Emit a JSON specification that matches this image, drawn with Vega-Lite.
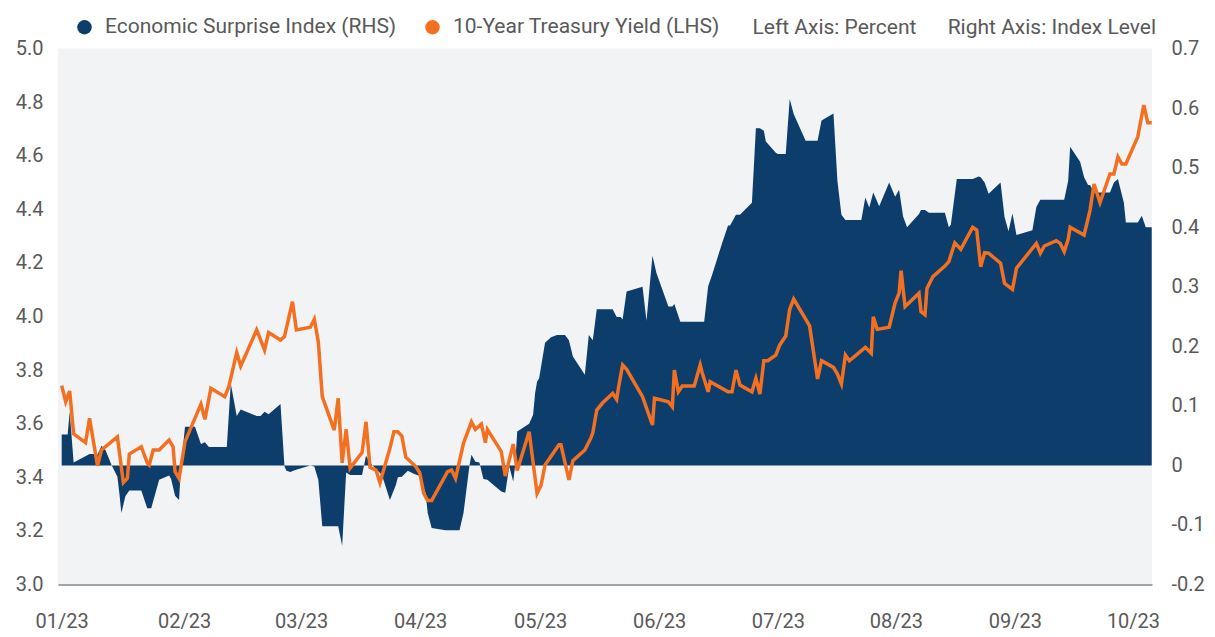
{
  "$schema": "https://vega.github.io/schema/vega-lite/v6.json",
  "autosize": {"type": "none"},
  "padding": {"left": 58, "top": 48.5, "right": 63, "bottom": 52.5},
  "width": 1094,
  "height": 536,
  "background": "white",
  "title": {
    "text": "Left Axis: Percent\u00a0\u00a0\u00a0\u00a0\u00a0\u00a0Right Axis: Index Level",
    "anchor": "end", "frame": "group", "orient": "top", "offset": -17.5, "baseline": "alphabetic",
    "fontSize": 21, "font": "Roboto", "fontWeight": "normal", "color": "#595959", "dx": 4, "dy": 21
  },
  "datasets": {
    "esi": [
      {"date": "2023-01-03", "esi": 0.052},
      {"date": "2023-01-04T12:00:00Z", "esi": 0.052},
      {"date": "2023-01-05", "esi": 0.090},
      {"date": "2023-01-06", "esi": 0.005},
      {"date": "2023-01-10", "esi": 0.019},
      {"date": "2023-01-11", "esi": 0.019},
      {"date": "2023-01-12", "esi": 0.018},
      {"date": "2023-01-13", "esi": 0.033},
      {"date": "2023-01-14", "esi": 0.026},
      {"date": "2023-01-15T12:00:00Z", "esi": 0.001},
      {"date": "2023-01-17", "esi": -0.019},
      {"date": "2023-01-17T12:00:00Z", "esi": -0.047},
      {"date": "2023-01-18", "esi": -0.080},
      {"date": "2023-01-19", "esi": -0.052},
      {"date": "2023-01-20", "esi": -0.042},
      {"date": "2023-01-23", "esi": -0.042},
      {"date": "2023-01-24T12:00:00Z", "esi": -0.072},
      {"date": "2023-01-25T12:00:00Z", "esi": -0.072},
      {"date": "2023-01-27T12:00:00Z", "esi": -0.024},
      {"date": "2023-01-30", "esi": -0.017},
      {"date": "2023-01-30T12:00:00Z", "esi": -0.023},
      {"date": "2023-01-31T12:00:00Z", "esi": -0.051},
      {"date": "2023-02-01T12:00:00Z", "esi": -0.058},
      {"date": "2023-02-02", "esi": 0.000},
      {"date": "2023-02-03", "esi": 0.065},
      {"date": "2023-02-05T12:00:00Z", "esi": 0.065},
      {"date": "2023-02-07", "esi": 0.036},
      {"date": "2023-02-08", "esi": 0.039},
      {"date": "2023-02-09", "esi": 0.031},
      {"date": "2023-02-13T12:00:00Z", "esi": 0.031},
      {"date": "2023-02-14T12:00:00Z", "esi": 0.137},
      {"date": "2023-02-16", "esi": 0.083},
      {"date": "2023-02-17", "esi": 0.094},
      {"date": "2023-02-21", "esi": 0.083},
      {"date": "2023-02-22", "esi": 0.083},
      {"date": "2023-02-23", "esi": 0.090},
      {"date": "2023-02-24", "esi": 0.086},
      {"date": "2023-02-27", "esi": 0.103},
      {"date": "2023-02-28", "esi": -0.002},
      {"date": "2023-02-28T12:00:00Z", "esi": -0.009},
      {"date": "2023-03-01T12:00:00Z", "esi": -0.011},
      {"date": "2023-03-02T12:00:00Z", "esi": -0.008},
      {"date": "2023-03-06T12:00:00Z", "esi": 0.000},
      {"date": "2023-03-07T12:00:00Z", "esi": -0.002},
      {"date": "2023-03-08T12:00:00Z", "esi": -0.024},
      {"date": "2023-03-09T12:00:00Z", "esi": -0.102},
      {"date": "2023-03-13T12:00:00Z", "esi": -0.102},
      {"date": "2023-03-14T12:00:00Z", "esi": -0.135},
      {"date": "2023-03-15T12:00:00Z", "esi": -0.012},
      {"date": "2023-03-16T12:00:00Z", "esi": -0.016},
      {"date": "2023-03-19T12:00:00Z", "esi": -0.016},
      {"date": "2023-03-20T12:00:00Z", "esi": 0.016},
      {"date": "2023-03-21T12:00:00Z", "esi": 0.005},
      {"date": "2023-03-22", "esi": 0.001},
      {"date": "2023-03-24T12:00:00Z", "esi": -0.016},
      {"date": "2023-03-26T12:00:00Z", "esi": -0.058},
      {"date": "2023-03-28", "esi": -0.033},
      {"date": "2023-03-28T12:00:00Z", "esi": -0.020},
      {"date": "2023-03-29T12:00:00Z", "esi": -0.019},
      {"date": "2023-03-31", "esi": -0.009},
      {"date": "2023-04-01T12:00:00Z", "esi": -0.014},
      {"date": "2023-04-03", "esi": -0.018},
      {"date": "2023-04-04T12:00:00Z", "esi": -0.047},
      {"date": "2023-04-05", "esi": -0.080},
      {"date": "2023-04-06", "esi": -0.105},
      {"date": "2023-04-09T12:00:00Z", "esi": -0.109},
      {"date": "2023-04-13", "esi": -0.109},
      {"date": "2023-04-14", "esi": -0.080},
      {"date": "2023-04-15T12:00:00Z", "esi": 0.000},
      {"date": "2023-04-16", "esi": 0.018},
      {"date": "2023-04-17", "esi": 0.006},
      {"date": "2023-04-18", "esi": 0.005},
      {"date": "2023-04-19", "esi": -0.023},
      {"date": "2023-04-20", "esi": -0.024},
      {"date": "2023-04-23T12:00:00Z", "esi": -0.044},
      {"date": "2023-04-24T12:00:00Z", "esi": -0.046},
      {"date": "2023-04-25T12:00:00Z", "esi": -0.002},
      {"date": "2023-04-26T12:00:00Z", "esi": -0.027},
      {"date": "2023-04-27", "esi": 0.001},
      {"date": "2023-04-27T12:00:00Z", "esi": 0.057},
      {"date": "2023-04-30T12:00:00Z", "esi": 0.070},
      {"date": "2023-05-01T12:00:00Z", "esi": 0.085},
      {"date": "2023-05-02", "esi": 0.121},
      {"date": "2023-05-02T12:00:00Z", "esi": 0.141},
      {"date": "2023-05-03", "esi": 0.146},
      {"date": "2023-05-04T12:00:00Z", "esi": 0.206},
      {"date": "2023-05-06", "esi": 0.215},
      {"date": "2023-05-07T12:00:00Z", "esi": 0.219},
      {"date": "2023-05-09T12:00:00Z", "esi": 0.219},
      {"date": "2023-05-10T12:00:00Z", "esi": 0.210},
      {"date": "2023-05-11T12:00:00Z", "esi": 0.183},
      {"date": "2023-05-14T12:00:00Z", "esi": 0.152},
      {"date": "2023-05-15T12:00:00Z", "esi": 0.219},
      {"date": "2023-05-16T12:00:00Z", "esi": 0.210},
      {"date": "2023-05-17T12:00:00Z", "esi": 0.262},
      {"date": "2023-05-21T12:00:00Z", "esi": 0.262},
      {"date": "2023-05-22T12:00:00Z", "esi": 0.249},
      {"date": "2023-05-23T12:00:00Z", "esi": 0.249},
      {"date": "2023-05-24", "esi": 0.245},
      {"date": "2023-05-25", "esi": 0.292},
      {"date": "2023-05-29", "esi": 0.300},
      {"date": "2023-05-30", "esi": 0.243},
      {"date": "2023-05-31T12:00:00Z", "esi": 0.352},
      {"date": "2023-06-01T12:00:00Z", "esi": 0.323},
      {"date": "2023-06-04T12:00:00Z", "esi": 0.267},
      {"date": "2023-06-05T12:00:00Z", "esi": 0.267},
      {"date": "2023-06-06", "esi": 0.271},
      {"date": "2023-06-07T12:00:00Z", "esi": 0.241},
      {"date": "2023-06-13T12:00:00Z", "esi": 0.241},
      {"date": "2023-06-14T12:00:00Z", "esi": 0.301},
      {"date": "2023-06-15T12:00:00Z", "esi": 0.320},
      {"date": "2023-06-18", "esi": 0.373},
      {"date": "2023-06-19T12:00:00Z", "esi": 0.403},
      {"date": "2023-06-20", "esi": 0.403},
      {"date": "2023-06-21T12:00:00Z", "esi": 0.421},
      {"date": "2023-06-22T12:00:00Z", "esi": 0.421},
      {"date": "2023-06-25T12:00:00Z", "esi": 0.441},
      {"date": "2023-06-26T12:00:00Z", "esi": 0.566},
      {"date": "2023-06-27T12:00:00Z", "esi": 0.566},
      {"date": "2023-06-28T12:00:00Z", "esi": 0.562},
      {"date": "2023-06-29", "esi": 0.544},
      {"date": "2023-07-01T12:00:00Z", "esi": 0.525},
      {"date": "2023-07-02", "esi": 0.523},
      {"date": "2023-07-04", "esi": 0.523},
      {"date": "2023-07-05", "esi": 0.615},
      {"date": "2023-07-06", "esi": 0.590},
      {"date": "2023-07-09", "esi": 0.545},
      {"date": "2023-07-12", "esi": 0.545},
      {"date": "2023-07-13", "esi": 0.579},
      {"date": "2023-07-16", "esi": 0.591},
      {"date": "2023-07-17", "esi": 0.477},
      {"date": "2023-07-18", "esi": 0.421},
      {"date": "2023-07-19", "esi": 0.412},
      {"date": "2023-07-23", "esi": 0.412},
      {"date": "2023-07-24", "esi": 0.450},
      {"date": "2023-07-25", "esi": 0.433},
      {"date": "2023-07-26", "esi": 0.458},
      {"date": "2023-07-27T12:00:00Z", "esi": 0.435},
      {"date": "2023-07-30", "esi": 0.475},
      {"date": "2023-07-31T12:00:00Z", "esi": 0.451},
      {"date": "2023-08-01T12:00:00Z", "esi": 0.463},
      {"date": "2023-08-02T12:00:00Z", "esi": 0.418},
      {"date": "2023-08-03T12:00:00Z", "esi": 0.400},
      {"date": "2023-08-06T12:00:00Z", "esi": 0.422},
      {"date": "2023-08-07", "esi": 0.429},
      {"date": "2023-08-08", "esi": 0.429},
      {"date": "2023-08-09", "esi": 0.424},
      {"date": "2023-08-13", "esi": 0.424},
      {"date": "2023-08-14", "esi": 0.400},
      {"date": "2023-08-14T12:00:00Z", "esi": 0.404},
      {"date": "2023-08-16", "esi": 0.481},
      {"date": "2023-08-20", "esi": 0.481},
      {"date": "2023-08-21T12:00:00Z", "esi": 0.485},
      {"date": "2023-08-22", "esi": 0.484},
      {"date": "2023-08-23", "esi": 0.475},
      {"date": "2023-08-24", "esi": 0.456},
      {"date": "2023-08-27", "esi": 0.475},
      {"date": "2023-08-28", "esi": 0.417},
      {"date": "2023-08-29", "esi": 0.393},
      {"date": "2023-08-30", "esi": 0.423},
      {"date": "2023-08-31", "esi": 0.387},
      {"date": "2023-09-04", "esi": 0.395},
      {"date": "2023-09-05", "esi": 0.434},
      {"date": "2023-09-06", "esi": 0.446},
      {"date": "2023-09-12", "esi": 0.446},
      {"date": "2023-09-13", "esi": 0.478},
      {"date": "2023-09-13T12:00:00Z", "esi": 0.535},
      {"date": "2023-09-16", "esi": 0.510},
      {"date": "2023-09-17", "esi": 0.484},
      {"date": "2023-09-18", "esi": 0.471},
      {"date": "2023-09-18T12:00:00Z", "esi": 0.471},
      {"date": "2023-09-19T12:00:00Z", "esi": 0.458},
      {"date": "2023-09-23T12:00:00Z", "esi": 0.458},
      {"date": "2023-09-24T12:00:00Z", "esi": 0.475},
      {"date": "2023-09-25T12:00:00Z", "esi": 0.481},
      {"date": "2023-09-27", "esi": 0.441},
      {"date": "2023-09-27T12:00:00Z", "esi": 0.408},
      {"date": "2023-09-30T12:00:00Z", "esi": 0.408},
      {"date": "2023-10-01T12:00:00Z", "esi": 0.419},
      {"date": "2023-10-02T12:00:00Z", "esi": 0.400},
      {"date": "2023-10-04", "esi": 0.400}
    ],
    "yield": [
      {"date": "2023-01-03", "yield": 3.742},
      {"date": "2023-01-04", "yield": 3.682},
      {"date": "2023-01-05", "yield": 3.722},
      {"date": "2023-01-06", "yield": 3.562},
      {"date": "2023-01-09", "yield": 3.529},
      {"date": "2023-01-10", "yield": 3.620},
      {"date": "2023-01-12", "yield": 3.443},
      {"date": "2023-01-13", "yield": 3.502},
      {"date": "2023-01-17", "yield": 3.551},
      {"date": "2023-01-18T12:00:00Z", "yield": 3.380},
      {"date": "2023-01-19T12:00:00Z", "yield": 3.396},
      {"date": "2023-01-20", "yield": 3.487},
      {"date": "2023-01-23", "yield": 3.514},
      {"date": "2023-01-24T12:00:00Z", "yield": 3.454},
      {"date": "2023-01-25", "yield": 3.446},
      {"date": "2023-01-26", "yield": 3.502},
      {"date": "2023-01-27T12:00:00Z", "yield": 3.502},
      {"date": "2023-01-30", "yield": 3.539},
      {"date": "2023-01-31", "yield": 3.514},
      {"date": "2023-01-31T12:00:00Z", "yield": 3.421},
      {"date": "2023-02-01T12:00:00Z", "yield": 3.396},
      {"date": "2023-02-03", "yield": 3.533},
      {"date": "2023-02-07", "yield": 3.673},
      {"date": "2023-02-08", "yield": 3.616},
      {"date": "2023-02-09T12:00:00Z", "yield": 3.732},
      {"date": "2023-02-13", "yield": 3.701},
      {"date": "2023-02-14", "yield": 3.738},
      {"date": "2023-02-16", "yield": 3.865},
      {"date": "2023-02-17", "yield": 3.815},
      {"date": "2023-02-21", "yield": 3.950},
      {"date": "2023-02-23", "yield": 3.875},
      {"date": "2023-02-24", "yield": 3.940},
      {"date": "2023-02-27", "yield": 3.912},
      {"date": "2023-02-28", "yield": 3.925},
      {"date": "2023-03-02", "yield": 4.055},
      {"date": "2023-03-03", "yield": 3.950},
      {"date": "2023-03-06T12:00:00Z", "yield": 3.960},
      {"date": "2023-03-07T12:00:00Z", "yield": 3.990},
      {"date": "2023-03-08T12:00:00Z", "yield": 3.906},
      {"date": "2023-03-09T12:00:00Z", "yield": 3.701},
      {"date": "2023-03-12T12:00:00Z", "yield": 3.576},
      {"date": "2023-03-13T12:00:00Z", "yield": 3.695},
      {"date": "2023-03-14T12:00:00Z", "yield": 3.454},
      {"date": "2023-03-15T12:00:00Z", "yield": 3.579},
      {"date": "2023-03-16T12:00:00Z", "yield": 3.434},
      {"date": "2023-03-19T12:00:00Z", "yield": 3.492},
      {"date": "2023-03-20T12:00:00Z", "yield": 3.607},
      {"date": "2023-03-21T12:00:00Z", "yield": 3.437},
      {"date": "2023-03-23", "yield": 3.427},
      {"date": "2023-03-24", "yield": 3.380},
      {"date": "2023-03-26T12:00:00Z", "yield": 3.508},
      {"date": "2023-03-27T12:00:00Z", "yield": 3.570},
      {"date": "2023-03-28T12:00:00Z", "yield": 3.570},
      {"date": "2023-03-29T12:00:00Z", "yield": 3.554},
      {"date": "2023-03-30T12:00:00Z", "yield": 3.475},
      {"date": "2023-04-02", "yield": 3.440},
      {"date": "2023-04-03", "yield": 3.417},
      {"date": "2023-04-04", "yield": 3.340},
      {"date": "2023-04-05", "yield": 3.313},
      {"date": "2023-04-06", "yield": 3.313},
      {"date": "2023-04-10", "yield": 3.421},
      {"date": "2023-04-11", "yield": 3.427},
      {"date": "2023-04-12", "yield": 3.396},
      {"date": "2023-04-14", "yield": 3.527},
      {"date": "2023-04-16", "yield": 3.607},
      {"date": "2023-04-17", "yield": 3.579},
      {"date": "2023-04-18T12:00:00Z", "yield": 3.599},
      {"date": "2023-04-19T12:00:00Z", "yield": 3.529},
      {"date": "2023-04-20", "yield": 3.579},
      {"date": "2023-04-23T12:00:00Z", "yield": 3.496},
      {"date": "2023-04-24T12:00:00Z", "yield": 3.405},
      {"date": "2023-04-26T12:00:00Z", "yield": 3.524},
      {"date": "2023-04-27T12:00:00Z", "yield": 3.425},
      {"date": "2023-04-30T12:00:00Z", "yield": 3.570},
      {"date": "2023-05-02T12:00:00Z", "yield": 3.340},
      {"date": "2023-05-03T12:00:00Z", "yield": 3.371},
      {"date": "2023-05-04T12:00:00Z", "yield": 3.446},
      {"date": "2023-05-08", "yield": 3.521},
      {"date": "2023-05-08T12:00:00Z", "yield": 3.521},
      {"date": "2023-05-10T12:00:00Z", "yield": 3.390},
      {"date": "2023-05-11T12:00:00Z", "yield": 3.462},
      {"date": "2023-05-14T12:00:00Z", "yield": 3.502},
      {"date": "2023-05-16", "yield": 3.546},
      {"date": "2023-05-16T12:00:00Z", "yield": 3.566},
      {"date": "2023-05-17T12:00:00Z", "yield": 3.651},
      {"date": "2023-05-19", "yield": 3.678},
      {"date": "2023-05-21T12:00:00Z", "yield": 3.713},
      {"date": "2023-05-22T12:00:00Z", "yield": 3.691},
      {"date": "2023-05-23", "yield": 3.738},
      {"date": "2023-05-24", "yield": 3.819},
      {"date": "2023-05-25", "yield": 3.803},
      {"date": "2023-05-29", "yield": 3.701},
      {"date": "2023-05-31T12:00:00Z", "yield": 3.595},
      {"date": "2023-06-01", "yield": 3.695},
      {"date": "2023-06-04T12:00:00Z", "yield": 3.682},
      {"date": "2023-06-05T12:00:00Z", "yield": 3.663},
      {"date": "2023-06-06", "yield": 3.800},
      {"date": "2023-06-07", "yield": 3.719},
      {"date": "2023-06-08", "yield": 3.741},
      {"date": "2023-06-11", "yield": 3.741},
      {"date": "2023-06-12T12:00:00Z", "yield": 3.819},
      {"date": "2023-06-13", "yield": 3.790},
      {"date": "2023-06-14T12:00:00Z", "yield": 3.719},
      {"date": "2023-06-15", "yield": 3.757},
      {"date": "2023-06-19T12:00:00Z", "yield": 3.719},
      {"date": "2023-06-20T12:00:00Z", "yield": 3.719},
      {"date": "2023-06-21T12:00:00Z", "yield": 3.800},
      {"date": "2023-06-22T12:00:00Z", "yield": 3.744},
      {"date": "2023-06-25T12:00:00Z", "yield": 3.719},
      {"date": "2023-06-26T12:00:00Z", "yield": 3.769},
      {"date": "2023-06-27T12:00:00Z", "yield": 3.711},
      {"date": "2023-06-28T12:00:00Z", "yield": 3.835},
      {"date": "2023-06-29T12:00:00Z", "yield": 3.835},
      {"date": "2023-07-01T12:00:00Z", "yield": 3.856},
      {"date": "2023-07-02T12:00:00Z", "yield": 3.894},
      {"date": "2023-07-04", "yield": 3.927},
      {"date": "2023-07-05", "yield": 4.027},
      {"date": "2023-07-06", "yield": 4.065},
      {"date": "2023-07-09", "yield": 3.990},
      {"date": "2023-07-10", "yield": 3.965},
      {"date": "2023-07-12", "yield": 3.767},
      {"date": "2023-07-13", "yield": 3.835},
      {"date": "2023-07-16", "yield": 3.810},
      {"date": "2023-07-17", "yield": 3.785},
      {"date": "2023-07-18", "yield": 3.748},
      {"date": "2023-07-19", "yield": 3.856},
      {"date": "2023-07-20", "yield": 3.835},
      {"date": "2023-07-24", "yield": 3.885},
      {"date": "2023-07-25T12:00:00Z", "yield": 3.863},
      {"date": "2023-07-26", "yield": 3.999},
      {"date": "2023-07-27", "yield": 3.952},
      {"date": "2023-07-30", "yield": 3.960},
      {"date": "2023-07-31T12:00:00Z", "yield": 4.051},
      {"date": "2023-08-01T12:00:00Z", "yield": 4.087},
      {"date": "2023-08-02", "yield": 4.171},
      {"date": "2023-08-03", "yield": 4.037},
      {"date": "2023-08-06T12:00:00Z", "yield": 4.087},
      {"date": "2023-08-07", "yield": 4.018},
      {"date": "2023-08-08", "yield": 4.006},
      {"date": "2023-08-08T12:00:00Z", "yield": 4.105},
      {"date": "2023-08-10", "yield": 4.149},
      {"date": "2023-08-13", "yield": 4.188},
      {"date": "2023-08-14", "yield": 4.205},
      {"date": "2023-08-15T12:00:00Z", "yield": 4.275},
      {"date": "2023-08-17", "yield": 4.251},
      {"date": "2023-08-20", "yield": 4.333},
      {"date": "2023-08-21", "yield": 4.323},
      {"date": "2023-08-22", "yield": 4.186},
      {"date": "2023-08-23", "yield": 4.238},
      {"date": "2023-08-24", "yield": 4.236},
      {"date": "2023-08-27", "yield": 4.199},
      {"date": "2023-08-28", "yield": 4.124},
      {"date": "2023-08-30", "yield": 4.101},
      {"date": "2023-08-31", "yield": 4.180},
      {"date": "2023-09-05", "yield": 4.273},
      {"date": "2023-09-06", "yield": 4.236},
      {"date": "2023-09-07", "yield": 4.263},
      {"date": "2023-09-10", "yield": 4.283},
      {"date": "2023-09-11", "yield": 4.273},
      {"date": "2023-09-12", "yield": 4.242},
      {"date": "2023-09-13", "yield": 4.288},
      {"date": "2023-09-13T12:00:00Z", "yield": 4.333},
      {"date": "2023-09-17", "yield": 4.304},
      {"date": "2023-09-18T12:00:00Z", "yield": 4.397},
      {"date": "2023-09-19T12:00:00Z", "yield": 4.494},
      {"date": "2023-09-21", "yield": 4.425},
      {"date": "2023-09-23T12:00:00Z", "yield": 4.532},
      {"date": "2023-09-24T12:00:00Z", "yield": 4.532},
      {"date": "2023-09-25T12:00:00Z", "yield": 4.596},
      {"date": "2023-09-26T12:00:00Z", "yield": 4.569},
      {"date": "2023-09-27T12:00:00Z", "yield": 4.569},
      {"date": "2023-09-30T12:00:00Z", "yield": 4.671},
      {"date": "2023-10-02", "yield": 4.789},
      {"date": "2023-10-03", "yield": 4.723},
      {"date": "2023-10-04", "yield": 4.723}
    ]
  },
  "encoding": {
    "x": {
      "field": "date", "type": "temporal",
      "scale": {"type": "utc", "domain": [
        {"year": 2023, "month": 1, "date": 2, "hours": 1, "minutes": 40, "utc": true},
        {"year": 2023, "month": 10, "date": 4, "hours": 1, "minutes": 40, "utc": true}
      ]},
      "axis": {
        "title": null,
        "values": [
          {"year": 2023, "month": 1, "date": 3, "utc": true},
          {"year": 2023, "month": 2, "date": 2, "hours": 18, "utc": true},
          {"year": 2023, "month": 3, "date": 4, "hours": 4, "utc": true},
          {"year": 2023, "month": 4, "date": 3, "hours": 2, "utc": true},
          {"year": 2023, "month": 5, "date": 3, "hours": 6, "utc": true},
          {"year": 2023, "month": 6, "date": 2, "hours": 4, "utc": true},
          {"year": 2023, "month": 7, "date": 2, "hours": 1, "utc": true},
          {"year": 2023, "month": 7, "date": 31, "hours": 17, "utc": true},
          {"year": 2023, "month": 8, "date": 30, "hours": 15, "utc": true},
          {"year": 2023, "month": 9, "date": 29, "hours": 7, "utc": true}
        ],
        "labelExpr": "utcFormat(time(datum.value) + 302400000, '%m/%y')",
        "ticks": false, "grid": false,
        "domainColor": "#a3a3a3", "domainWidth": 2,
        "labelFont": "Roboto", "labelFontSize": 20, "labelColor": "#595959",
        "labelPadding": 27, "labelFlush": false, "labelOverlap": false
      }
    }
  },
  "layer": [
    {
      "data": {"name": "esi"},
      "layer": [
        {
          "mark": {"type": "area", "interpolate": "linear"},
          "encoding": {
            "y": {
              "field": "esi", "type": "quantitative",
              "scale": {"domain": [-0.2, 0.7], "nice": false, "zero": false},
              "axis": {
                "orient": "right", "title": null, "domain": false, "ticks": false, "grid": false,
                "values": [-0.2, -0.1, 0, 0.1, 0.2, 0.3, 0.4, 0.5, 0.6, 0.7],
                "labelExpr": "datum.value == 0 ? '0' : (datum.value < 0 ? '-' + format(-datum.value, '.1f') : format(datum.value, '.1f'))",
                "labelFont": "Roboto", "labelFontSize": 20, "labelColor": "#595959", "labelPadding": 19
              }
            },
            "color": {
              "datum": "Economic Surprise Index (RHS)",
              "type": "nominal",
              "scale": {
                "domain": ["Economic Surprise Index (RHS)", "10-Year Treasury Yield (LHS)"],
                "range": ["#0c3d6b", "#f37021"]
              },
              "legend": {
                "title": null, "orient": "none", "legendX": 16, "legendY": -32,
                "direction": "horizontal", "symbolType": "circle", "symbolSize": 210,
                "labelFont": "Roboto", "labelFontSize": 21, "labelColor": "#595959",
                "labelOffset": 10, "columnPadding": 25, "labelLimit": 0,
                "encode": {"symbols": {"update": {
                  "fill": {"scale": "color", "field": "value"},
                  "fillOpacity": {"value": 1},
                  "strokeWidth": {"value": 0}
                }}}
              }
            }
          }
        },
        {
          "mark": {"type": "rule", "color": "#8e9196", "strokeWidth": 1.5},
          "encoding": {"y": {"datum": 0, "type": "quantitative"}}
        }
      ]
    },
    {
      "data": {"name": "yield"},
      "mark": {"type": "line", "strokeWidth": 3.5, "interpolate": "linear"},
      "encoding": {
        "y": {
          "field": "yield", "type": "quantitative",
          "scale": {"domain": [3.0, 5.0], "nice": false, "zero": false},
          "axis": {
            "orient": "left", "title": null, "domain": false, "ticks": false, "grid": false,
            "values": [3.0, 3.2, 3.4, 3.6, 3.8, 4.0, 4.2, 4.4, 4.6, 4.8, 5.0],
            "format": ".1f",
            "labelFont": "Roboto", "labelFontSize": 20, "labelColor": "#595959", "labelPadding": 15
          }
        },
        "color": {"datum": "10-Year Treasury Yield (LHS)", "type": "nominal"}
      }
    }
  ],
  "resolve": {"scale": {"y": "independent"}},
  "config": {
    "view": {"stroke": null, "fill": "#f2f3f5"},
    "font": "Roboto"
  }
}
